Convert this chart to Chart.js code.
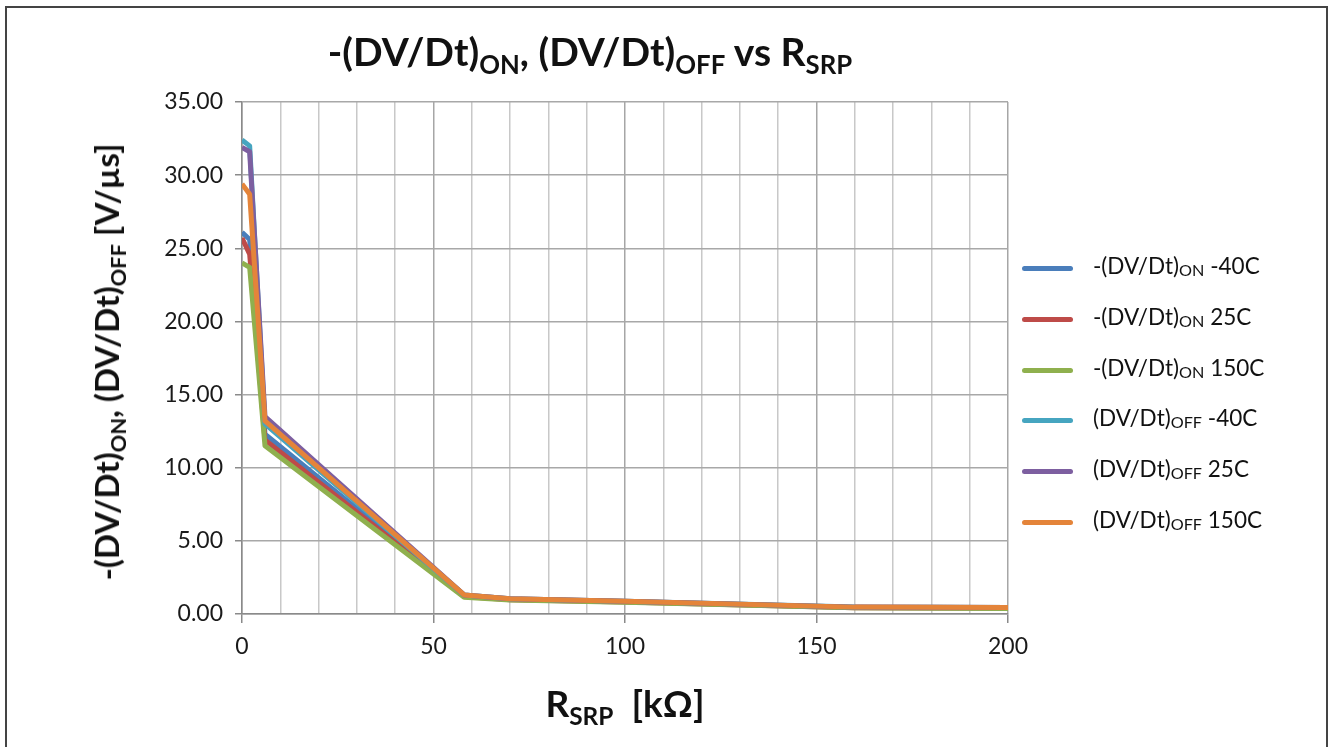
<!DOCTYPE html>
<html>
<head>
<meta charset="utf-8">
<script src="https://cdn.jsdelivr.net/npm/chart.js@4.4.0/dist/chart.umd.min.js"></script>
<style>
  body { margin: 0; background: #fff; font-family: Lato, "Open Sans", sans-serif; color: #111; }
  #wrap { position: relative; width: 1332px; height: 747px; overflow: hidden; }
  #frame { position: absolute; left: 5px; top: 6px; width: 1323px; height: 780px; border: 2px solid #444; box-sizing: border-box; }
  #chart { position: absolute; left: 0; top: 0; }
  sub { font-size: 0.66em; vertical-align: -0.32em; line-height: 0; }
  .title { position: absolute; left: 590px; top: 28px; transform: translateX(-50%); font-weight: bold; font-size: 39px; white-space: nowrap; }
  .ytitle { position: absolute; left: 106px; top: 362px; transform: translate(-50%, -50%) rotate(-90deg); font-weight: bold; font-size: 33px; white-space: nowrap; }
  .xtitle { position: absolute; left: 625px; top: 680px; transform: translateX(-50%); font-weight: bold; font-size: 37px; white-space: nowrap; }
  .legend { position: absolute; left: 1022px; top: 252px; }
  .item { position: relative; height: 50.8px; font-size: 22.5px; white-space: nowrap; }
  .item sub { font-size: 0.72em; vertical-align: -0.15em; }
  .item .sw { position: absolute; left: 0; top: 14px; width: 51px; height: 5px; border-radius: 3px; }
  .item .tx { position: absolute; left: 71px; top: 0px; }
</style>
</head>
<body>
<div id="wrap">
  <div id="frame"></div>
  <canvas id="chart" width="1332" height="747"></canvas>
  <div class="title">-(DV/Dt)<sub>ON</sub>, (DV/Dt)<sub>OFF</sub> vs R<sub>SRP</sub></div>
  <div class="ytitle">-(DV/Dt)<sub>ON</sub>, (DV/Dt)<sub>OFF</sub> [V/µs]</div>
  <div class="xtitle">R<sub>SRP</sub>&nbsp; [kΩ]</div>
  <div class="legend" id="legend"></div>
</div>
<script>
// R_SRP in kOhm
const rSrp = [0, 2, 6, 58, 70, 100, 160, 200];

const onM40 = [26.1, 25.6, 12.3, 1.25, 1.0, 0.85, 0.45, 0.42];
const on25 = [25.7, 24.6, 11.9, 1.2, 0.98, 0.82, 0.43, 0.40];
const on150 = [24.0, 23.7, 11.5, 1.15, 0.95, 0.80, 0.42, 0.38];
const offM40 = [32.4, 32.0, 13.0, 1.3, 1.05, 0.88, 0.48, 0.45];
const off25 = [31.9, 31.6, 13.5, 1.3, 1.05, 0.87, 0.47, 0.44];
const off150 = [29.4, 28.7, 13.2, 1.3, 1.05, 0.88, 0.47, 0.45];

const seriesNames = ["-(DV/Dt)", "-(DV/Dt)", "-(DV/Dt)", "(DV/Dt)", "(DV/Dt)", "(DV/Dt)"];
const seriesSubs = ["ON", "ON", "ON", "OFF", "OFF", "OFF"];
const seriesTemps = ["-40C", "25C", "150C", "-40C", "25C", "150C"];
const seriesColors = ["#4a7ebb", "#be4b48", "#8fb04e", "#46a5c0", "#7d5fa0", "#e4843a"];
const seriesValues = [onM40, on25, on150, offM40, off25, off150];

const yTicks = [0, 5, 10, 15, 20, 25, 30, 35];

const datasets = seriesValues.map((vals, i) => ({
  label: seriesNames[i] + seriesSubs[i] + " " + seriesTemps[i],
  data: rSrp.map((r, j) => ({ x: r, y: vals[j] })),
  borderColor: seriesColors[i],
  backgroundColor: seriesColors[i],
  borderWidth: 5,
  pointRadius: 0,
  tension: 0,
  borderJoinStyle: "round",
  order: seriesValues.length - i, // last series drawn on top
}));

// legend with subscripts
const legend = document.getElementById("legend");
seriesNames.forEach((n, i) => {
  const item = document.createElement("div");
  item.className = "item";
  item.innerHTML = '<div class="sw" style="background:' + seriesColors[i] + '"></div>' +
    '<div class="tx">' + n + "<sub>" + seriesSubs[i] + "</sub> " + seriesTemps[i] + "</div>";
  legend.appendChild(item);
});

const tickFont = { family: "Lato, 'Open Sans', sans-serif", size: 23 };

new Chart(document.getElementById("chart").getContext("2d"), {
  type: "line",
  data: { datasets: datasets },
  options: {
    responsive: false,
    animation: false,
    layout: { padding: { left: 0, right: 324, top: 102, bottom: 0 } },
    plugins: { legend: { display: false }, title: { display: false }, tooltip: { enabled: false } },
    scales: {
      x: {
        type: "linear",
        min: 0,
        max: 200,
        afterFit: (scale) => { scale.height = 133; },
        ticks: {
          stepSize: 10,
          autoSkip: false,
          maxRotation: 0,
          padding: 10,
          color: "#1a1a1a",
          font: tickFont,
          callback: (v) => (v % 50 === 0 ? v : ""),
        },
        grid: {
          color: (c) => (c.tick && c.tick.value % 50 === 0 ? "#a6a6a6" : "#c8c8c8"),
          tickColor: (c) => (c.tick && c.tick.value % 50 === 0 ? "#8a8a8a" : "rgba(0,0,0,0)"),
          tickLength: 9,
          lineWidth: 1.5,
        },
        border: { color: "#8a8a8a", width: 1.5 },
      },
      y: {
        min: 0,
        max: 35,
        afterFit: (scale) => { scale.width = 242; },
        afterBuildTicks: (scale) => { scale.ticks = yTicks.map((v) => ({ value: v })); },
        ticks: {
          padding: 12,
          color: "#1a1a1a",
          font: tickFont,
          callback: (v) => v.toFixed(2),
        },
        grid: { color: "#a8a8a8", tickColor: "#8a8a8a", tickLength: 7, lineWidth: 1.5 },
        border: { color: "#8a8a8a", width: 1.5 },
      },
    },
  },
});
</script>
</body>
</html>
